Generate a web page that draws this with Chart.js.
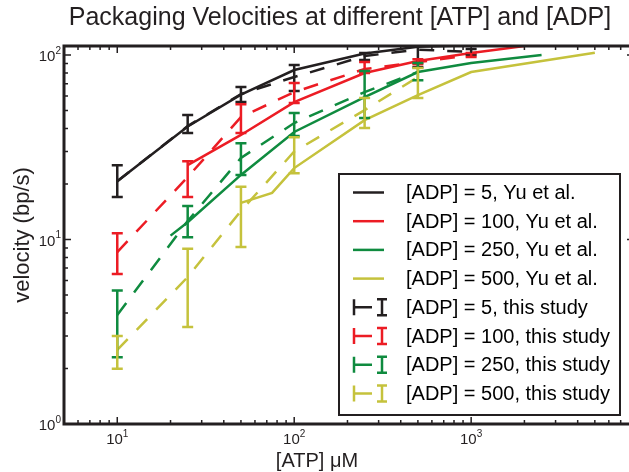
<!DOCTYPE html>
<html>
<head>
<meta charset="utf-8">
<script src="https://cdn.jsdelivr.net/npm/chart.js@4.4.1/dist/chart.umd.min.js"></script>
<style>
  html, body { margin: 0; padding: 0; background: #fff; }
  canvas { display: block; }
</style>
</head>
<body>
<canvas id="velocityChart" width="629" height="472"></canvas>
<script>
// [ATP] in uM, velocity in bp/s
const yuAtp5 = [10, 25, 50, 100, 250, 500, 1000]
const yuVel5 = [20.7, 41, 61, 83, 102, 111, 113]
const yuAtp100 = [25, 50, 100, 250, 500, 1000, 2000]
const yuVel100 = [25.3, 36.9, 55.6, 79.9, 92.8, 102.5, 112]
const yuAtp250 = [20, 25, 50, 100, 250, 500, 1000, 2500]
const yuVel250 = [10.5, 12.4, 22.4, 38.3, 59.2, 80.9, 90.5, 100]
const yuAtp500 = [50, 75, 100, 250, 500, 1000, 5000]
const yuVel500 = [15.8, 17.9, 24.4, 44.4, 60.7, 80.9, 103]

const studyAtp5 = [10, 25, 50, 100, 250, 500, 1000]
const studyVel5 = [20.7, 41.2, 61.5, 76, 98.8, 107, 104]
const studyLo5 = [17.0, 37.8, 55.6, 63.8, 94, 86, 100]
const studyHi5 = [25.3, 47.3, 67.1, 88.3, 102.5, 118, 108]

const studyAtp100 = [10, 25, 50, 100, 250, 500, 1000]
const studyVel100 = [8.55, 21.8, 46.1, 63, 84, 91.6, 100]
const studyLo100 = [6.5, 17.0, 37.8, 55, 80, 89.3, 97.5]
const studyHi100 = [10.8, 26.6, 54.2, 70.5, 91.6, 95, 102.5]

const studyAtp250 = [10, 25, 50, 100, 250, 500]
const studyVel250 = [3.9, 12.6, 27.7, 42.8, 63, 81]
const studyLo250 = [2.3, 10.3, 22.4, 36.4, 45.6, 73]
const studyHi250 = [5.3, 15.2, 33.3, 48.5, 81.9, 90.5]

const studyAtp500 = [10, 25, 50, 100, 250, 500]
const studyVel500 = [2.52, 6.26, 14.3, 30, 50.3, 76]
const studyLo500 = [1.99, 3.36, 9.1, 22.9, 40.2, 58.5]
const studyHi500 = [3.0, 8.9, 19.3, 35.9, 58.5, 85]

const adpLevels = ['5', '100', '250', '500']
const xTickExps = ['1', '2', '3']
const yTickExps = ['0', '1', '2']

const colors = ['#231f20', '#ec1c24', '#0f8b3f', '#c5c23c']
const FONT = '"Liberation Sans", Arial, Helvetica, sans-serif'

const yuSets = [[yuAtp5, yuVel5], [yuAtp100, yuVel100], [yuAtp250, yuVel250], [yuAtp500, yuVel500]]
const studySets = [
    [studyAtp5, studyVel5, studyLo5, studyHi5],
    [studyAtp100, studyVel100, studyLo100, studyHi100],
    [studyAtp250, studyVel250, studyLo250, studyHi250],
    [studyAtp500, studyVel500, studyLo500, studyHi500]
]

function toPoints(xs, ys) {
    return xs.map((x, i) => ({x: x, y: ys[i]}))
}

const datasets = []
yuSets.forEach((s, i) => {
    datasets.push({
        label: '[ADP] = ' + adpLevels[i] + ', Yu et al.',
        data: toPoints(s[0], s[1]),
        borderColor: colors[i],
        borderWidth: 2.5,
        pointRadius: 0,
        tension: 0
    })
})
studySets.forEach((s, i) => {
    datasets.push({
        label: '[ADP] = ' + adpLevels[i] + ', this study',
        data: toPoints(s[0], s[1]),
        borderColor: colors[i],
        borderWidth: 2.5,
        borderDash: [15, 13],
        pointRadius: 0,
        tension: 0
    })
})

function drawPow(ctx, exp, x, y, align) {
    ctx.font = '15px ' + FONT
    const baseW = ctx.measureText('10').width
    ctx.font = '10px ' + FONT
    const expW = ctx.measureText(exp).width
    const left = align === 'right' ? x - baseW - expW : x - (baseW + expW) / 2
    ctx.textAlign = 'left'
    ctx.textBaseline = 'middle'
    ctx.font = '15px ' + FONT
    ctx.fillText('10', left, y)
    ctx.font = '10px ' + FONT
    ctx.fillText(exp, left + baseW, y - 6)
}

const decorations = {
    id: 'decorations',
    afterDatasetsDraw(chart) {
        const {ctx, chartArea: a, scales: {x, y}} = chart
        ctx.save()
        ctx.beginPath()
        ctx.rect(a.left, a.top, a.right - a.left, a.bottom - a.top)
        ctx.clip()
        ctx.lineWidth = 2.5
        studySets.forEach((s, i) => {
            ctx.strokeStyle = colors[i]
            s[0].forEach((atp, k) => {
                const px = x.getPixelForValue(atp)
                const top = y.getPixelForValue(s[3][k])
                const bot = y.getPixelForValue(s[2][k])
                ctx.beginPath()
                ctx.moveTo(px, top); ctx.lineTo(px, bot)
                ctx.moveTo(px - 5.5, top); ctx.lineTo(px + 5.5, top)
                ctx.moveTo(px - 5.5, bot); ctx.lineTo(px + 5.5, bot)
                ctx.stroke()
            })
        })
        ctx.restore()
    },
    afterDraw(chart) {
        const {ctx, chartArea: a, scales: {x, y}} = chart
        const ink = '#231f20'
        // the right axis of the figure sits just past the cropped edge
        const rightAxis = a.right + 5
        ctx.save()

        // title
        ctx.fillStyle = ink
        ctx.font = '25px ' + FONT
        ctx.textAlign = 'center'
        ctx.textBaseline = 'middle'
        ctx.fillText('Packaging Velocities at different [ATP] and [ADP]', 340, 18)

        // ticks, pointing inward on all four sides
        ctx.strokeStyle = ink
        ctx.lineWidth = 1.5
        ctx.beginPath()
        for (let d = 1; d <= 1000; d *= 10) {
            for (let m = 1; m < 10; m++) {
                const v = d * m
                if (v < x.min || v > x.max) continue
                const px = x.getPixelForValue(v)
                const len = m === 1 ? 7 : 4
                ctx.moveTo(px, a.bottom); ctx.lineTo(px, a.bottom - len)
                ctx.moveTo(px, a.top); ctx.lineTo(px, a.top + len)
            }
        }
        for (let d = 1; d <= 100; d *= 10) {
            for (let m = 1; m < 10; m++) {
                const v = d * m
                if (v < y.min || v > y.max) continue
                const py = y.getPixelForValue(v)
                const len = m === 1 ? 7 : 4
                ctx.moveTo(a.left, py); ctx.lineTo(a.left + len, py)
                ctx.moveTo(rightAxis, py); ctx.lineTo(rightAxis - len, py)
            }
        }
        ctx.stroke()

        // frame
        ctx.lineWidth = 3
        ctx.beginPath()
        ctx.moveTo(rightAxis, a.top)
        ctx.lineTo(a.left, a.top)
        ctx.lineTo(a.left, a.bottom)
        ctx.lineTo(rightAxis, a.bottom)
        ctx.stroke()

        // tick labels
        xTickExps.forEach(e => drawPow(ctx, e, x.getPixelForValue(Math.pow(10, +e)), a.bottom + 16, 'center'))
        yTickExps.forEach(e => drawPow(ctx, e, a.left - 3, y.getPixelForValue(Math.pow(10, +e)) + 2, 'right'))

        // x axis title
        ctx.font = '20px ' + FONT
        ctx.textAlign = 'center'
        ctx.textBaseline = 'middle'
        ctx.fillText('[ATP] \u03bcM', 317, 461)

        // legend
        const box = {left: 339, top: 174, right: 620, bottom: 415}
        ctx.fillStyle = '#fff'
        ctx.fillRect(box.left, box.top, box.right - box.left, box.bottom - box.top)
        ctx.lineWidth = 2
        ctx.strokeStyle = ink
        ctx.strokeRect(box.left, box.top, box.right - box.left, box.bottom - box.top)
        ctx.font = '20px ' + FONT
        ctx.textAlign = 'left'
        ctx.textBaseline = 'middle'
        chart.data.datasets.forEach((ds, i) => {
            const rowY = 192.5 + i * 28.7
            ctx.strokeStyle = ds.borderColor
            ctx.lineWidth = 2.5
            ctx.beginPath()
            if (i < 4) {
                ctx.moveTo(353, rowY); ctx.lineTo(384, rowY)
            } else {
                ctx.moveTo(354, rowY - 8); ctx.lineTo(354, rowY + 8)
                ctx.moveTo(354, rowY); ctx.lineTo(372, rowY)
                ctx.moveTo(382, rowY - 8); ctx.lineTo(382, rowY + 8)
                ctx.moveTo(377, rowY - 8); ctx.lineTo(387, rowY - 8)
                ctx.moveTo(377, rowY + 8); ctx.lineTo(387, rowY + 8)
            }
            ctx.stroke()
            ctx.fillStyle = '#000'
            ctx.fillText(ds.label, 406, rowY + 1)
        })
        ctx.restore()
    }
}

new Chart(document.getElementById('velocityChart'), {
    type: 'line',
    data: {datasets: datasets},
    options: {
        responsive: false,
        animation: false,
        layout: {padding: {top: 46, left: 0, bottom: 0, right: 0}},
        plugins: {
            legend: {display: false},
            tooltip: {enabled: false},
            title: {display: false}
        },
        scales: {
            x: {
                type: 'logarithmic',
                min: 5,
                max: 7800,
                grid: {display: false},
                border: {display: false},
                ticks: {display: false},
                afterFit: (scale) => { scale.height = 48 }
            },
            y: {
                type: 'logarithmic',
                min: 1,
                max: 112,
                grid: {display: false},
                border: {display: false},
                ticks: {display: false},
                title: {
                    display: true,
                    text: 'velocity (bp/s)',
                    color: '#231f20',
                    font: {family: FONT, size: 22},
                    padding: {top: 10, bottom: 0}
                },
                afterFit: (scale) => { scale.width = 64 }
            }
        }
    },
    plugins: [decorations]
})
</script>
</body>
</html>
